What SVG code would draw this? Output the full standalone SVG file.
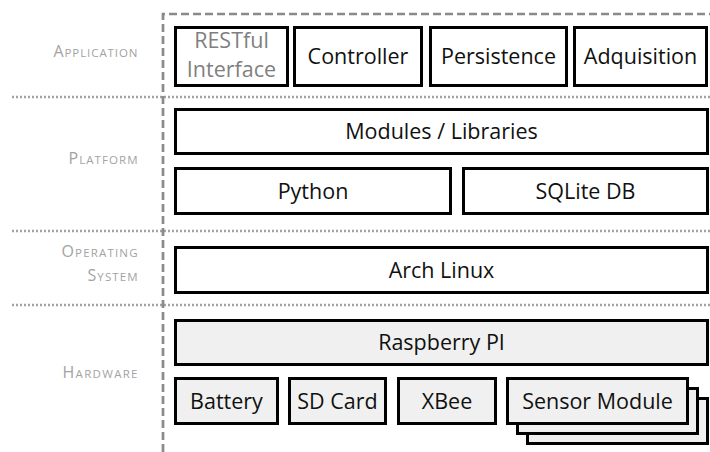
<svg xmlns="http://www.w3.org/2000/svg" width="710" height="452" viewBox="0 0 710 452">
<style>
.box{fill:#ffffff;stroke:#000;stroke-width:3}
.hw{fill:#f0f0f0;stroke:#000;stroke-width:3}
.t{font-family:"Open Sans","Liberation Sans",sans-serif;font-size:21.5px;fill:#111;text-anchor:middle}
.tg{fill:#7f7f7f}
.lbl{font-family:"Open Sans","Liberation Sans",sans-serif;fill:#a3a3a3;text-anchor:end;font-size:11.5px}
.big{font-size:16px}
.sep{fill:none;stroke:#a3a3a3;stroke-width:2.5;stroke-dasharray:2,2}
.frame{fill:none;stroke:#8a8a8a;stroke-width:2.7;stroke-dasharray:8,4}
</style>
<rect width="710" height="452" fill="#fff"/>
<g id="layers">
<path class="sep" d="M12,97 H710"/>
<path class="sep" d="M12,231 H710"/>
<path class="sep" d="M12,305 H710"/>
<path class="frame" d="M163,452 V14 H710"/>
</g>
<g id="labels">
<text class="lbl" x="137.5" y="57" textLength="84" lengthAdjust="spacing"><tspan class="big">A</tspan>PPLICATION</text>
<text class="lbl" x="137.5" y="164" textLength="69" lengthAdjust="spacing"><tspan class="big">P</tspan>LATFORM</text>
<text class="lbl" x="137.5" y="257" textLength="76" lengthAdjust="spacing"><tspan class="big">O</tspan>PERATING</text>
<text class="lbl" x="137.5" y="281" textLength="50" lengthAdjust="spacing"><tspan class="big">S</tspan>YSTEM</text>
<text class="lbl" x="137.5" y="378" textLength="75" lengthAdjust="spacing"><tspan class="big">H</tspan>ARDWARE</text>
</g>
<g id="restful"><rect class="box" x="175.5" y="27.5" width="112" height="58"/>
<text class="t tg" x="231.5" y="48">RESTful</text><text class="t tg" x="231.5" y="77">Interface</text></g>
<g id="controller"><rect class="box" x="294.5" y="27.5" width="127" height="58"/><text class="t" x="358" y="64">Controller</text></g>
<g id="persistence"><rect class="box" x="430.5" y="27.5" width="136" height="58"/><text class="t" x="498.5" y="64">Persistence</text></g>
<g id="adquisition"><rect class="box" x="574.5" y="27.5" width="132" height="58"/><text class="t" x="640.5" y="64">Adquisition</text></g>
<g id="modules"><rect class="box" x="175.5" y="109.5" width="532" height="44"/><text class="t" x="441.5" y="139">Modules / Libraries</text></g>
<g id="python"><rect class="box" x="175.5" y="168.5" width="275" height="45"/><text class="t" x="313" y="199">Python</text></g>
<g id="sqlite"><rect class="box" x="463.5" y="168.5" width="244" height="45"/><text class="t" x="585.5" y="199">SQLite DB</text></g>
<g id="archlinux"><rect class="box" x="175.5" y="247.5" width="532" height="45"/><text class="t" x="441.5" y="278">Arch Linux</text></g>
<g id="raspberry"><rect class="hw" x="175.5" y="320.5" width="532" height="44"/><text class="t" x="441.5" y="350">Raspberry PI</text></g>
<g id="battery"><rect class="hw" x="175.5" y="378.5" width="102" height="45"/><text class="t" x="226.5" y="409">Battery</text></g>
<g id="sdcard"><rect class="hw" x="289.5" y="378.5" width="96" height="45"/><text class="t" x="337.5" y="409">SD Card</text></g>
<g id="xbee"><rect class="hw" x="398.5" y="378.5" width="97" height="45"/><text class="t" x="447" y="409">XBee</text></g>
<g id="sensor">
<rect class="hw" x="527.5" y="398.5" width="180" height="45"/>
<rect class="hw" x="517.5" y="388.5" width="180" height="45"/>
<rect class="hw" x="507.5" y="378.5" width="180" height="45"/>
<text class="t" x="597.5" y="409">Sensor Module</text>
</g>
</svg>
